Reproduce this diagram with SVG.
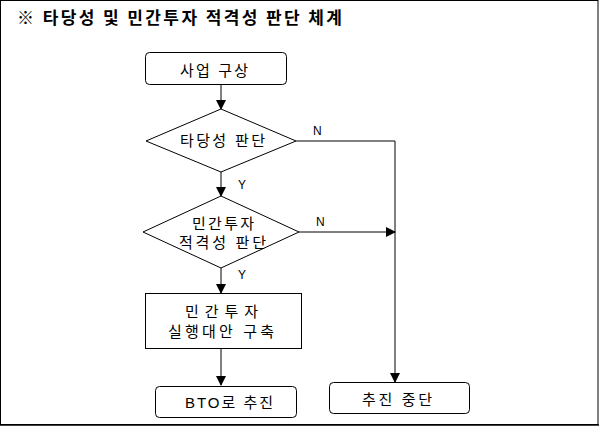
<svg xmlns="http://www.w3.org/2000/svg" width="599" height="427" viewBox="0 0 599 427">
<style>
.s{fill:#fff;stroke:#000;stroke-width:1}
.t{font-family:"Liberation Sans","Noto Sans CJK KR",sans-serif;font-size:15px;fill:#000;text-anchor:middle}
.l{font-family:"Liberation Sans",sans-serif;font-size:12px;fill:#000}
.c{fill:none;stroke:#000;stroke-width:1}
</style>
<defs>
<marker id="a" markerWidth="10" markerHeight="10" refX="9" refY="5" orient="auto" markerUnits="userSpaceOnUse">
<path d="M0,0 L10,5 L0,10 Z" fill="#000"/>
</marker>
</defs>
<rect x="0.5" y="0.5" width="597.5" height="424" fill="#fff" stroke="#000" stroke-width="1"/>
<line x1="0" y1="425" x2="599" y2="425" stroke="#000" stroke-width="1.5"/>
<text x="17" y="24" font-family="'Noto Sans CJK KR',sans-serif" font-size="17" font-weight="bold" fill="#000" textLength="325" lengthAdjust="spacing">※ 타당성 및 민간투자 적격성 판단 체계</text>
<g id="connectors">
<line class="c" x1="221" y1="84" x2="221" y2="109" marker-end="url(#a)"/>
<line class="c" x1="221" y1="172" x2="221" y2="196" marker-end="url(#a)"/>
<line class="c" x1="221" y1="268" x2="221" y2="293" marker-end="url(#a)"/>
<line class="c" x1="221" y1="348" x2="221" y2="385" marker-end="url(#a)"/>
<polyline class="c" points="296,141 395,141 395,382" marker-end="url(#a)"/>
<line class="c" x1="299" y1="232" x2="395" y2="232" marker-end="url(#a)"/>
<text class="l" x="313" y="135">N</text>
<text class="l" x="316" y="226">N</text>
<text class="l" x="238" y="189">Y</text>
<text class="l" x="238" y="279">Y</text>
</g>
<g id="n1">
<rect class="s" x="145.5" y="52.5" width="141" height="32" rx="4"/>
<text class="t" x="214" y="76" textLength="68" lengthAdjust="spacing">사업 구상</text>
</g>
<g id="n2">
<polygon class="s" points="221,109 296,141 221,172 146,141"/>
<text class="t" x="222.5" y="146" textLength="85" lengthAdjust="spacing">타당성 판단</text>
</g>
<g id="n3">
<polygon class="s" points="221,196 299,232 221,268 143,232"/>
<text class="t" x="223" y="229" textLength="62" lengthAdjust="spacing">민간투자</text>
<text class="t" x="222.5" y="248" textLength="87" lengthAdjust="spacing">적격성 판단</text>
</g>
<g id="n4">
<rect class="s" x="145.5" y="293.5" width="156" height="55"/>
<text class="t" x="221.5" y="317" textLength="73" lengthAdjust="spacing">민간투자</text>
<text class="t" x="221" y="337" textLength="106" lengthAdjust="spacing">실행대안 구축</text>
</g>
<g id="n5">
<rect class="s" x="155.5" y="386.5" width="141" height="31" rx="4"/>
<text class="t" x="229" y="408" textLength="88" lengthAdjust="spacing">BTO로 추진</text>
</g>
<g id="n6">
<rect class="s" x="329.5" y="382.5" width="140" height="31" rx="4"/>
<text class="t" x="397" y="405" textLength="70" lengthAdjust="spacing">추진 중단</text>
</g>
</svg>
